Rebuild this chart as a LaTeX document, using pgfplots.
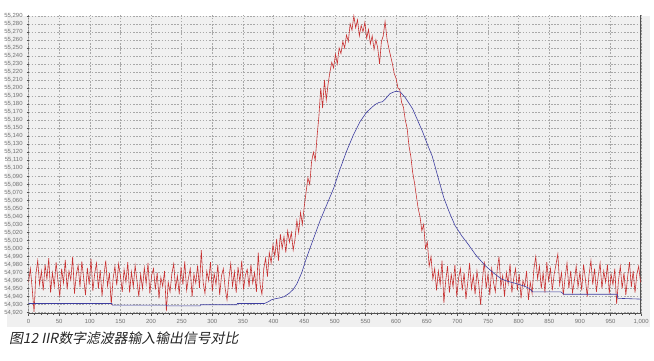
\documentclass[border=0pt]{standalone}
\usepackage{pgfplots}
\pgfplotsset{compat=1.18}
\usepackage{fontspec}
\setmainfont{Liberation Sans}
\newfontfamily\cjk[FakeSlant=0.2]{Noto Sans CJK SC}
\definecolor{bggrey}{HTML}{F0F0F0}
\definecolor{gridgrey}{HTML}{A8A8A8}
\definecolor{axisgrey}{HTML}{505050}
\definecolor{labelgrey}{HTML}{707070}
\definecolor{sigred}{HTML}{C83232}
\definecolor{sigblue}{HTML}{3C3CA0}
\begin{document}
\begin{tikzpicture}
\fill[white] (0,0) rectangle (490.5pt,273pt);
\fill[bggrey] (0,25.5pt) rectangle (487.5pt,261pt);
\begin{axis}[
  at={(16.5pt,35.25pt)}, anchor=south west,
  scale only axis, width=464.25pt, height=226.5pt,
  xmin=0, xmax=1000, ymin=54918.8, ymax=55291.2,
  xtick={0,50,...,1000},
  ytick={54920,54930,...,55290},
  scaled x ticks=false, scaled y ticks=false,
  /pgf/number format/.cd, fixed, precision=0, 1000 sep={,}, assume math mode=true,
  /pgfplots/.cd,
  tick label style={font=\fontsize{4.5}{5}\selectfont, text=labelgrey},
  yticklabel style={xshift=0.5pt},
  xticklabel style={yshift=0.5pt},
  grid=major,
  major grid style={gridgrey, dash pattern=on 1.2pt off 1.2pt, line width=0.4pt},
  tick align=outside, xtick pos=bottom, ytick pos=left,
  major tick length=1.5pt, minor tick length=1pt,
  minor x tick num=4,
  tick style={axisgrey, line width=0.4pt},
  axis line style={draw=none},
]
\draw[axisgrey, line width=1.1pt] (rel axis cs:0,1) -- (rel axis cs:0,0) -- (rel axis cs:1,0) -- (rel axis cs:1,1);
\addplot[sigred, line width=0.45pt] coordinates {
(0,54958) (3,54975) (6,54950) (9,54921) (12,54968) (15,54985) (18,54955) (21,54972) (24,54948) (27,54980)
(30,54962) (33,54988) (36,54945) (39,54970) (42,54953) (45,54983) (48,54960) (51,54940) (54,54975) (57,54957)
(60,54986) (63,54949) (66,54972) (69,54961) (72,54990) (75,54944) (78,54968) (81,54979) (84,54952) (87,54984)
(90,54963) (93,54942) (96,54976) (99,54955) (102,54987) (105,54947) (108,54969) (111,54982) (114,54950) (117,54973)
(120,54941) (123,54966) (126,54985) (129,54953) (132,54970) (135,54930) (138,54962) (141,54978) (144,54954) (147,54981)
(150,54966) (153,54946) (156,54974) (159,54958) (162,54983) (165,54945) (168,54971) (171,54952) (174,54979) (177,54960)
(180,54940) (183,54968) (186,54950) (189,54976) (192,54956) (195,54982) (198,54944) (201,54967) (204,54975) (207,54949)
(210,54970) (213,54938) (216,54964) (219,54953) (222,54972) (225,54922) (228,54958) (231,54946) (234,54969) (237,54981)
(240,54950) (243,54966) (246,54943) (249,54977) (252,54955) (255,54984) (258,54948) (261,54963) (264,54975) (267,54940)
(270,54968) (273,54957) (276,54979) (279,54951) (282,54998) (285,54958) (288,54944) (291,54972) (294,54960) (297,54983)
(300,54947) (303,54969) (306,54955) (309,54980) (312,54942) (315,54966) (318,54975) (321,54950) (324,54936) (327,54962)
(330,54981) (333,54953) (336,54971) (339,54945) (342,54977) (345,54958) (348,54985) (351,54949) (354,54967) (357,54974)
(360,54952) (363,54980) (366,54957) (369,54970) (372,54946) (375,54995) (378,54955) (381,54943) (384,54975) (387,54988)
(390,54965) (393,54995) (396,54982) (399,55005) (402,54990) (405,55012) (408,54985) (411,55018) (414,55000) (417,55015)
(420,54995) (423,55022) (426,55008) (429,55020) (432,54998) (435,55012) (438,55035) (441,55020) (444,55045) (447,55030)
(450,55052) (453,55070) (456,55088) (459,55080) (462,55108) (465,55120) (468,55110) (471,55140) (474,55165) (477,55200)
(480,55175) (483,55210) (486,55185) (489,55205) (492,55220) (495,55232) (498,55225) (501,55242) (504,55230) (507,55250)
(510,55243) (513,55258) (516,55250) (519,55266) (522,55258) (525,55280) (528,55272) (531,55290) (534,55275) (537,55285)
(540,55265) (543,55278) (546,55270) (549,55282) (552,55262) (555,55273) (558,55255) (561,55265) (564,55248) (567,55260)
(570,55250) (573,55230) (576,55258) (579,55265) (582,55283) (585,55262) (588,55250) (591,55240) (594,55230) (597,55218)
(600,55212) (603,55200) (606,55198) (609,55182) (612,55176) (615,55160) (618,55150) (621,55128) (624,55115) (627,55095)
(630,55082) (633,55066) (636,55050) (639,55040) (642,55022) (645,55030) (648,55000) (651,55008) (654,54978) (657,54990)
(660,54962) (663,54975) (666,54948) (669,54972) (672,54955) (675,54985) (678,54932) (681,54960) (684,54978) (687,54945)
(690,54968) (693,54952) (696,54980) (699,54940) (702,54963) (705,54975) (708,54948) (711,54970) (714,54937) (717,54958)
(720,54982) (723,54950) (726,54966) (729,54943) (732,54972) (735,54955) (738,54930) (741,54962) (744,54984) (747,54950)
(750,54968) (753,54942) (756,54975) (759,54958) (762,54946) (765,54973) (768,54990) (771,54952) (774,54966) (777,54940)
(780,54970) (783,54956) (786,54981) (789,54945) (792,54963) (795,54975) (798,54948) (801,54968) (804,54938) (807,54960)
(810,54953) (813,54972) (816,54936) (819,54958) (822,54944) (825,54975) (828,54990) (831,54962) (834,54978) (837,54950)
(840,54970) (843,54945) (846,54983) (849,54960) (852,54975) (855,54948) (858,54968) (861,54980) (864,54993) (867,54955)
(870,54970) (873,54942) (876,54965) (879,54982) (882,54950) (885,54972) (888,54945) (891,54960) (894,54978) (897,54952)
(900,54970) (903,54948) (906,54980) (909,54962) (912,54940) (915,54968) (918,54985) (921,54955) (924,54975) (927,54946)
(930,54966) (933,54982) (936,54950) (939,54972) (942,54958) (945,54980) (948,54944) (951,54968) (954,54955) (957,54975)
(960,54931) (963,54960) (966,54978) (969,54950) (972,54970) (975,54942) (978,54965) (981,54983) (984,54952) (987,54972)
(990,54945) (993,54968) (996,54978) (999,54958)
};
\addplot[sigblue, line width=0.45pt] coordinates {
(0,54931.5) (136,54931.5) (137,54929.5) (225,54929.5) (226,54928.5) (280,54928.5) (281,54930) (340,54930)
(341,54931.5) (385,54931.5) (392,54934) (396,54936) (400,54937) (410,54938.5) (417,54940) (425,54944)
(432,54949) (438,54956) (446,54970) (454,54989) (465,55012) (476,55035) (487,55055) (498,55075)
(508,55098) (519,55121) (530,55141) (541,55158) (552,55170) (562,55177) (567,55180) (572,55182)
(578,55183) (582,55186) (590,55193) (596,55195) (600,55196) (607,55195) (615,55188) (622,55180)
(627,55174) (635,55160) (643,55146) (651,55130) (659,55115) (668,55090) (678,55063) (687,55045)
(696,55029) (707,55016) (718,55005) (730,54992) (745,54979) (760,54969) (772,54962) (783,54959)
(793,54957) (810,54953) (818,54950) (823,54946) (869,54946) (874,54943) (961,54943) (962,54938) (1000,54937)
};
\end{axis}
\node[anchor=west, inner sep=0pt, text=black!85] at (1.5pt,16.5pt) {\cjk\fontsize{10.5}{12}\selectfont 图12 IIR数字滤波器输入输出信号对比};
\end{tikzpicture}
\end{document}
